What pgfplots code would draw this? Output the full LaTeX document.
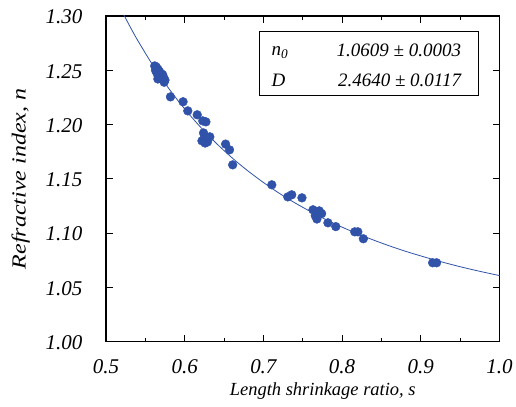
\documentclass[border=0pt]{standalone}
\usepackage{graphicx}
\usepackage{pgfplots}
\pgfplotsset{compat=1.18}
\usepackage{fontspec}
\setmainfont{Liberation Serif}
\definecolor{dotblue}{RGB}{48,82,168}
\begin{document}
\begin{tikzpicture}[font=\fontsize{19bp}{23bp}\selectfont]
\begin{axis}[
  name=ax,
  scale only axis, width=394bp, height=326bp,
  xmin=0.5, xmax=1.0, ymin=1.0, ymax=1.3,
  xtick={0.5,0.6,0.7,0.8,0.9,1.0},
  xticklabels={0.5,0.6,0.7,0.8,0.9,1.0},
  minor xtick={0.55,0.65,0.75,0.85,0.95},
  ytick={1.00,1.05,1.10,1.15,1.20,1.25,1.30},
  yticklabels={1.00,1.05,1.10,1.15,1.20,1.25,1.30},
  tick align=inside,
  major tick length=7bp, minor tick length=4bp,
  axis line style={line width=1.2bp},
  tick style={line width=0.8bp, black},
  ticklabel style={font=\fontsize{21bp}{25bp}\selectfont\itshape},
  label style={font=\fontsize{18.5bp}{22bp}\selectfont\itshape},
  yticklabel style={xshift=-20bp, yshift=-1bp},
  xticklabel style={yshift=-14bp},
  xlabel={Length shrinkage ratio, s},
  ylabel={\scalebox{1.2}[1]{\fontsize{20bp}{24bp}\selectfont Refractive index, n}},
  xlabel style={yshift=-2bp, xshift=20bp},
  ylabel style={yshift=9bp},
]
\addplot[dotblue, line width=0.8bp, smooth] coordinates {
(0.51,1.3200)(0.52,1.3050)(0.53,1.2911)(0.54,1.2780)(0.56,1.2542)(0.58,1.2331)(0.60,1.2144)(0.62,1.1978)(0.64,1.1829)(0.66,1.1695)(0.68,1.1575)(0.70,1.1467)(0.72,1.1368)(0.74,1.1279)(0.76,1.1198)(0.78,1.1123)(0.80,1.1055)(0.82,1.0993)(0.84,1.0936)(0.86,1.0883)(0.88,1.0834)(0.90,1.0790)(0.92,1.0748)(0.94,1.0709)(0.96,1.0673)(0.98,1.0640)(1.00,1.0609)
};
\addplot[only marks, mark=*, mark size=4.4bp, mark options={fill=dotblue, draw=dotblue}] coordinates {
(0.562,1.254)(0.563,1.250)(0.564,1.253)(0.565,1.247)(0.566,1.251)(0.567,1.245)(0.568,1.249)(0.569,1.243)(0.570,1.247)(0.571,1.242)(0.572,1.246)(0.573,1.244)(0.575,1.241)(0.566,1.242)(0.574,1.239)
(0.582,1.2255)(0.598,1.221)(0.604,1.2126)(0.616,1.209)(0.623,1.2034)(0.627,1.2025)(0.624,1.1923)(0.632,1.1887)(0.622,1.185)(0.626,1.183)(0.629,1.184)(0.625,1.188)(0.652,1.182)(0.657,1.1767)(0.661,1.1629)
(0.7107,1.1445)(0.731,1.1334)(0.736,1.1353)(0.749,1.1325)(0.763,1.1215)(0.769,1.1196)(0.774,1.118)(0.766,1.116)(0.768,1.113)(0.771,1.1205)(0.782,1.1095)(0.792,1.106)(0.816,1.1012)(0.820,1.1012)(0.827,1.0948)(0.915,1.0727)(0.920,1.0727)
};
\draw[line width=0.9bp] (rel axis cs:0.3909,0.7546) rectangle (rel axis cs:0.9467,0.951);
\node[anchor=base west, font=\fontsize{19bp}{23bp}\selectfont\itshape] at (rel axis cs:0.412,0.878) {n\textsubscript{0}};
\node[anchor=base east, font=\fontsize{19bp}{23bp}\selectfont\itshape] at (rel axis cs:0.911,0.875) {1.0609 ± 0.0003};
\node[anchor=base west, font=\fontsize{19bp}{23bp}\selectfont\itshape] at (rel axis cs:0.412,0.783) {D};
\node[anchor=base east, font=\fontsize{19bp}{23bp}\selectfont\itshape] at (rel axis cs:0.911,0.783) {2.4640 ± 0.0117};
\end{axis}
\path ([shift={(-106bp,-65bp)}]ax.south west) rectangle ([shift={(16bp,16bp)}]ax.north east);
\end{tikzpicture}
\end{document}
